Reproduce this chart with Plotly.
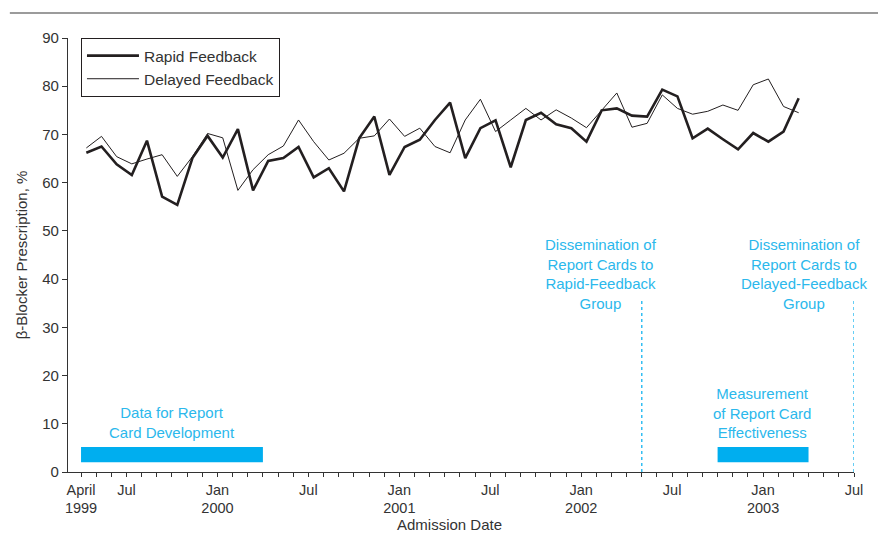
import plotly.graph_objects as go

# ---- data (months counted from April 1999 = 0) ----
month_index = list(range(48))  # April 1999 .. March 2003
rapid_feedback = [66.2, 67.5, 63.8, 61.6, 68.7, 57.1, 55.4, 65.1, 69.7, 65.2,
                  71.1, 58.4, 64.5, 65.1, 67.4, 61.1, 63.0, 58.2, 69.2, 73.7,
                  61.6, 67.4, 68.9, 73.0, 76.6, 65.1, 71.3, 72.9, 63.2, 73.0,
                  74.5, 72.1, 71.3, 68.5, 75.0, 75.4, 73.9, 73.7, 79.3, 77.9,
                  69.2, 71.2, 69.0, 66.9, 70.3, 68.5, 70.6, 77.5]
delayed_feedback = [67.2, 69.6, 65.4, 63.9, 64.9, 65.8, 61.3, 65.4, 70.2, 69.3,
                    58.4, 62.7, 65.8, 67.6, 73.0, 68.5, 64.7, 66.1, 69.2, 69.7,
                    73.2, 69.6, 71.3, 67.5, 66.2, 73.0, 77.3, 70.6, 73.0, 75.4,
                    73.0, 75.1, 73.4, 71.4, 75.0, 78.6, 71.5, 72.3, 78.2, 75.4,
                    74.2, 74.8, 76.1, 75.0, 80.3, 81.5, 75.8, 74.5]

tick_months = [0, 3, 9, 15, 21, 27, 33, 39, 45, 51]
tick_labels = ["April<br>1999", "Jul", "Jan<br>2000", "Jul", "Jan<br>2001", "Jul",
               "Jan<br>2002", "Jul", "Jan<br>2003", "Jul"]

data_period = [0, 12]          # data for report card development
measure_period = [42, 48]      # measurement of effectiveness
dissemination_months = [37, 51]  # rapid group, delayed group
period_bar_y = [2.0, 5.2]
dissemination_top = 35.5

POINT_OFFSET = 0.35
x_vals = [m + POINT_OFFSET for m in month_index]

INK = "#231f20"
CYAN = "#00aeef"
CYAN_TXT = "#2bb8ec"
FONT = "Liberation Sans, Arial, Helvetica, sans-serif"

fig = go.Figure()
fig.add_trace(go.Scatter(x=x_vals, y=rapid_feedback, mode="lines", name="Rapid Feedback",
                         line=dict(color=INK, width=2.6)))
fig.add_trace(go.Scatter(x=x_vals, y=delayed_feedback, mode="lines", name="Delayed Feedback",
                         line=dict(color=INK, width=1)))

all_ticks = list(range(0, 52))
all_text = [tick_labels[tick_months.index(m)] if m in tick_months else "" for m in all_ticks]

shapes = []
for a, b in (data_period, measure_period):
    shapes.append(dict(type="rect", xref="x", yref="y", x0=a, x1=b,
                       y0=period_bar_y[0], y1=period_bar_y[1],
                       fillcolor=CYAN, line=dict(width=0), layer="below"))
for m in dissemination_months:
    shapes.append(dict(type="line", xref="x", yref="y", x0=m, x1=m, y0=0, y1=dissemination_top,
                       line=dict(color=CYAN, width=1.2, dash="dot")))
# top rule
shapes.append(dict(type="line", xref="paper", yref="paper", x0=-0.074, x1=1.04,
                   y0=1.0576, y1=1.0576, line=dict(color="#7a7a7a", width=1.5)))

ann_font = dict(family=FONT, size=15, color=CYAN_TXT)
annotations = [
    dict(x=6.0, y=10.3, xref="x", yref="y", text="Data for Report<br>Card Development",
         showarrow=False, font=ann_font, align="center", yanchor="middle"),
    dict(x=34.3, y=41.1, xref="x", yref="y",
         text="Dissemination of<br>Report Cards to<br>Rapid-Feedback<br>Group",
         showarrow=False, font=ann_font, align="center", yanchor="middle"),
    dict(x=47.7, y=41.1, xref="x", yref="y",
         text="Dissemination of<br>Report Cards to<br>Delayed-Feedback<br>Group",
         showarrow=False, font=ann_font, align="center", yanchor="middle"),
    dict(x=44.9, y=12.3, xref="x", yref="y",
         text="Measurement<br>of Report Card<br>Effectiveness",
         showarrow=False, font=ann_font, align="center", yanchor="middle"),
    dict(x=0.485, y=-0.122, xref="paper", yref="paper", text="Admission Date",
         showarrow=False, font=dict(family=FONT, size=15, color="#333333"),
         yanchor="middle"),
]

fig.update_layout(
    width=878, height=546,
    margin=dict(l=68, r=24, t=38, b=74),
    paper_bgcolor="white", plot_bgcolor="white",
    font=dict(family=FONT, size=15, color="#333333"),
    showlegend=True,
    legend=dict(x=0.0165, y=1.0, xanchor="left", yanchor="top",
                bordercolor=INK, borderwidth=1, bgcolor="white",
                font=dict(family=FONT, size=15.5, color="#333333"),
                itemwidth=52, tracegroupgap=0),
    shapes=shapes,
    annotations=annotations,
    xaxis=dict(range=[-0.86, 51], tickvals=all_ticks, ticktext=all_text,
               ticks="outside", ticklen=4, tickcolor="#333333", tickwidth=1,
               showline=True, linecolor="#333333", linewidth=1.2,
               showgrid=False, zeroline=False, automargin=False,
               tickfont=dict(family=FONT, size=14.5, color="#333333")),
    yaxis=dict(range=[0, 90], tickvals=list(range(0, 91, 10)),
               ticks="outside", ticklen=5, tickcolor="#333333", tickwidth=1,
               showline=True, linecolor="#333333", linewidth=1.2,
               showgrid=False, zeroline=False, automargin=False,
               title=dict(text="β-Blocker Prescription, %", standoff=10,
                          font=dict(family=FONT, size=15, color="#333333")),
               tickfont=dict(family=FONT, size=15, color="#333333")),
)

fig.write_html("out.html",
               config={"displayModeBar": False},
               post_script="document.body.style.margin='0px';document.body.style.overflow='hidden';")
